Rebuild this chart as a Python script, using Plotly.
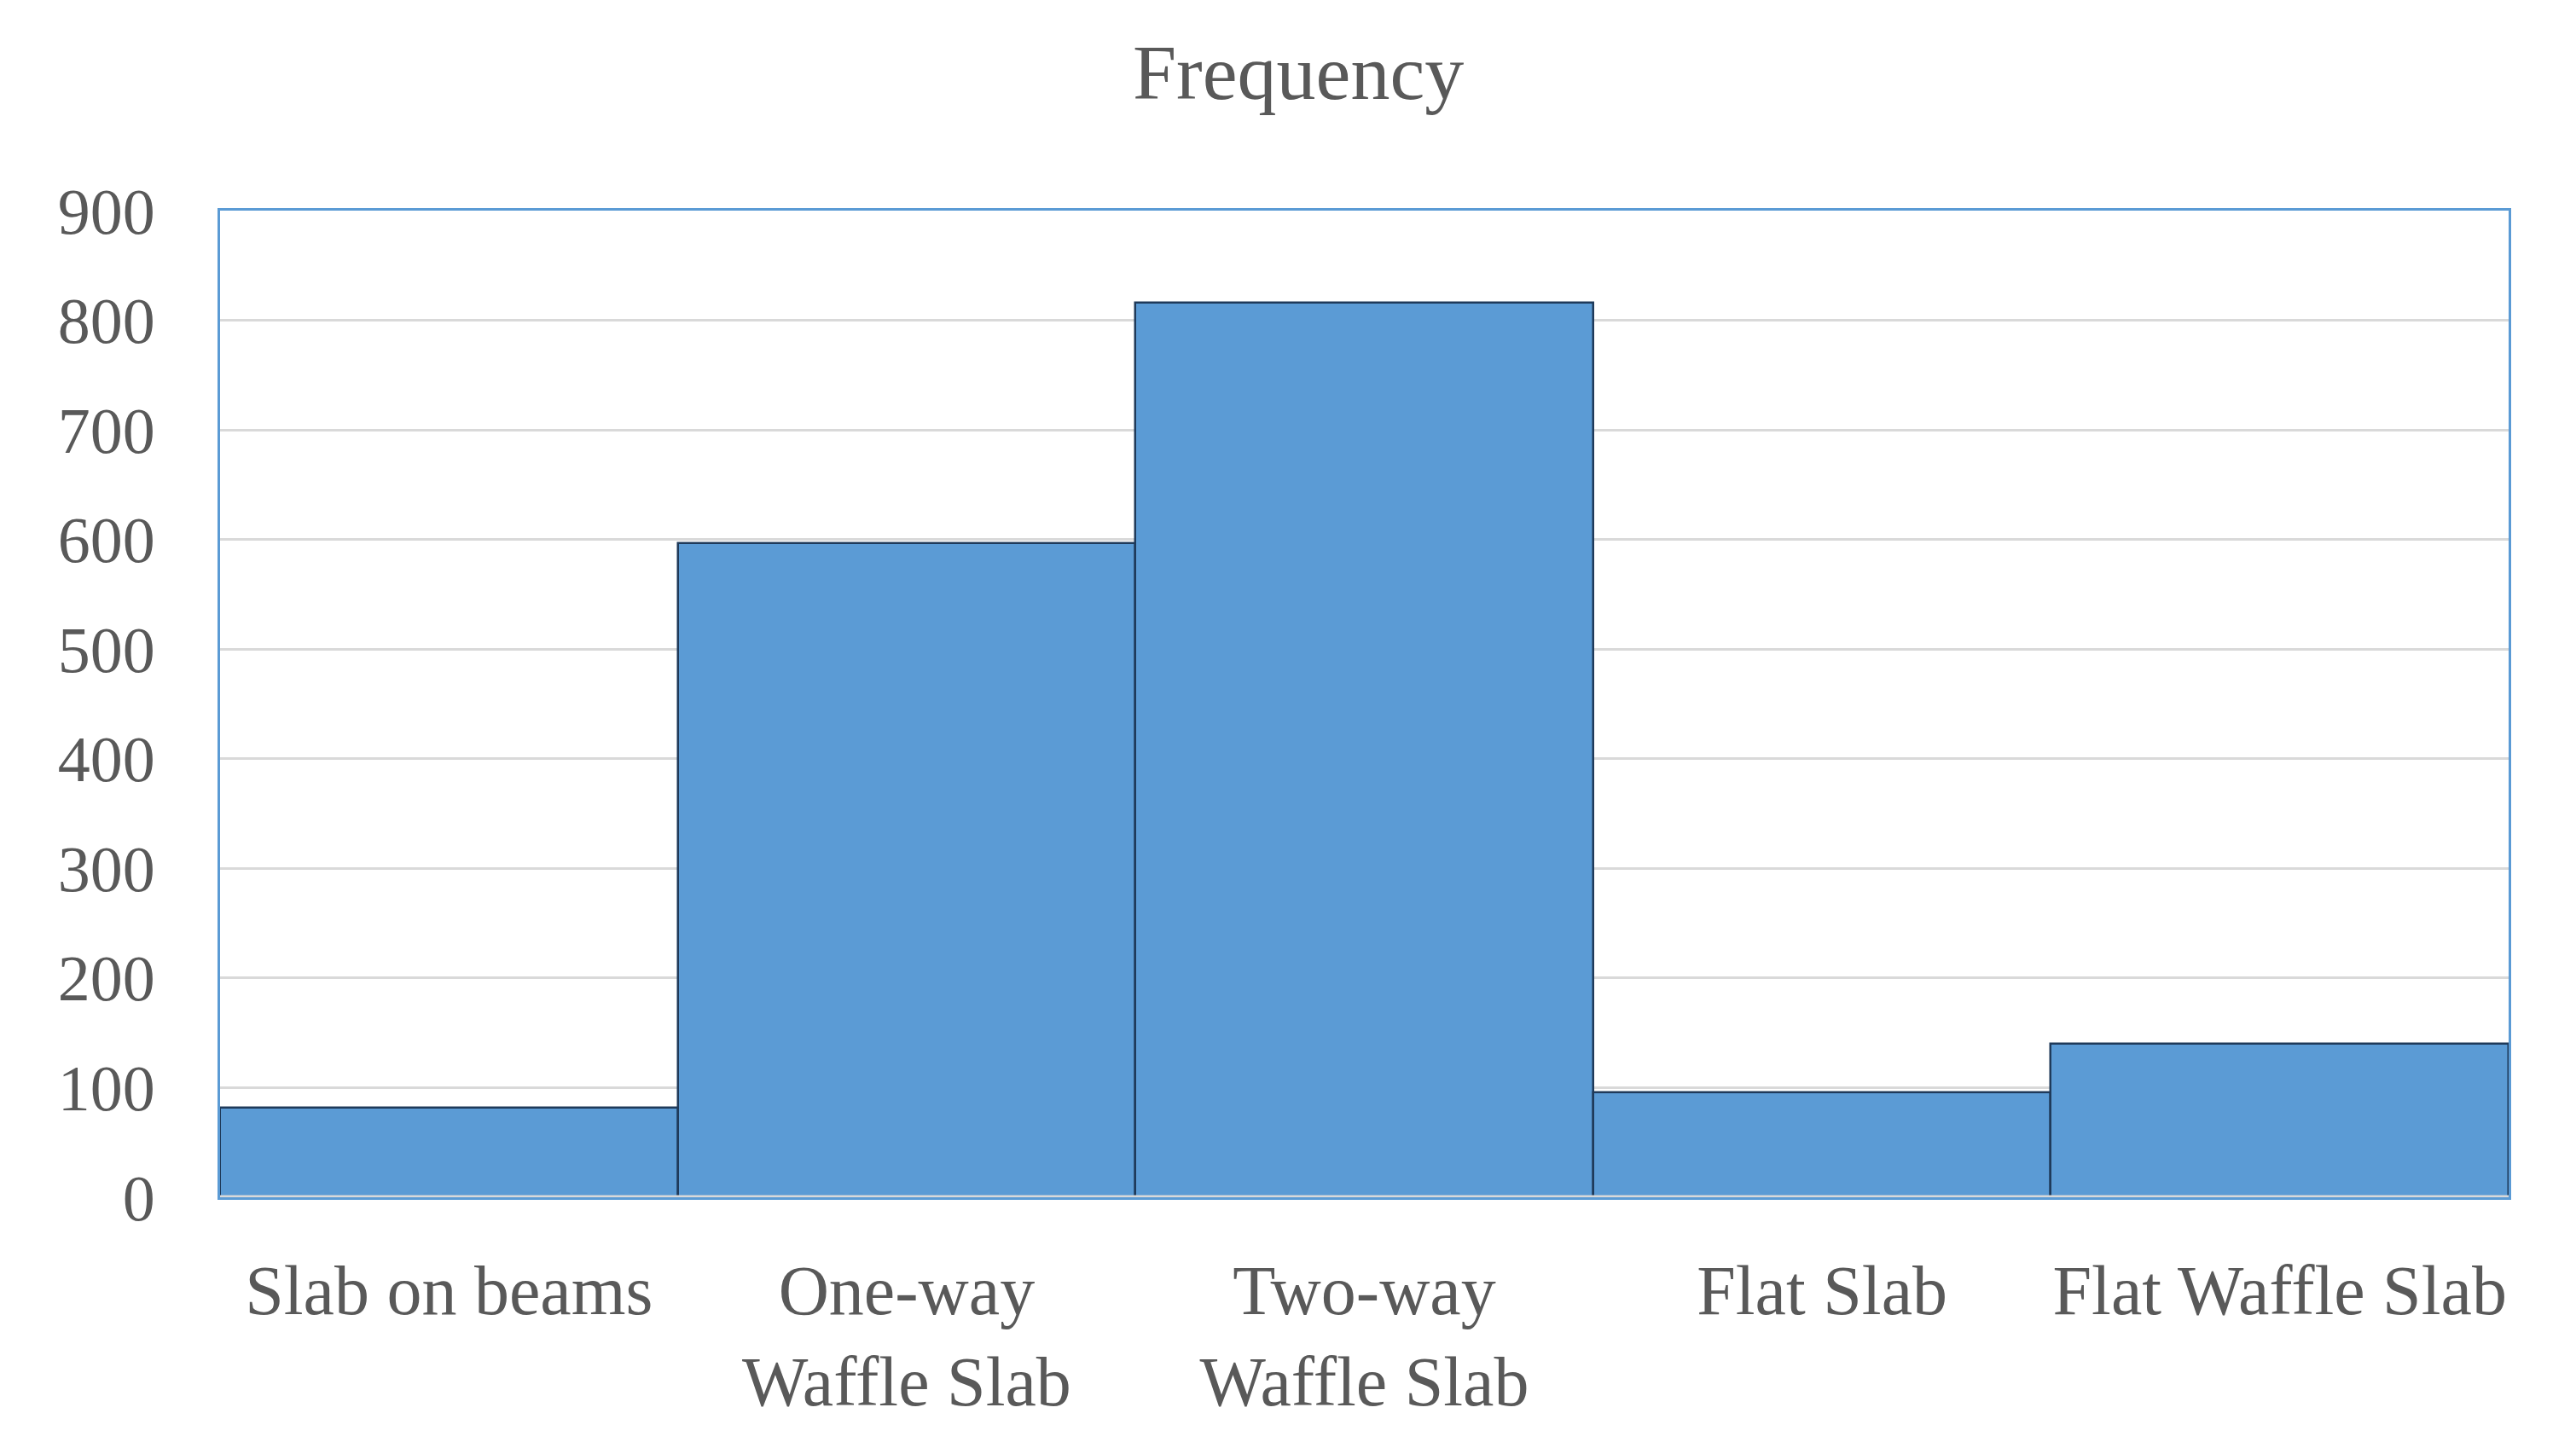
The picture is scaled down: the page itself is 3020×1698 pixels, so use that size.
import plotly.graph_objects as go

categories = ["Slab on beams", "One-way<br>Waffle Slab", "Two-way<br>Waffle Slab", "Flat Slab", "Flat Waffle Slab"]
frequency = [82, 597, 816, 96, 140]
y_ticks = [0, 100, 200, 300, 400, 500, 600, 700, 800, 900]

FONT = "Liberation Serif"
TXT = "#595959"

fig = go.Figure()
fig.add_trace(go.Bar(
    x=categories, y=frequency,
    marker=dict(color="#5B9BD5", line=dict(color="#1F3A5A", width=2.5)),
    showlegend=False,
))

fig.update_layout(
    width=3020, height=1698,
    paper_bgcolor="white", plot_bgcolor="white",
    margin=dict(l=258, r=79, t=247, b=294),
    bargap=0,
    title=dict(text="Frequency", x=0.504, xref="container", xanchor="center",
               y=1 - 52 / 1698, yref="container", yanchor="top",
               font=dict(family=FONT, size=92, color=TXT)),
    font=dict(family=FONT, color=TXT),
)
fig.update_xaxes(
    showline=True, linecolor="#5B9BD5", linewidth=3, mirror=True,
    showgrid=False, ticks="", tickfont=dict(family=FONT, size=82, color=TXT),
    ticklabelstandoff=36,
)
fig.update_yaxes(
    range=[0, 900], tickvals=y_ticks, ticktext=[str(v) for v in y_ticks],
    showline=True, linecolor="#5B9BD5", linewidth=3, mirror=True,
    showgrid=True, gridcolor="#D9D9D9", gridwidth=3,
    zeroline=False, ticks="", tickfont=dict(family=FONT, size=76, color=TXT),
    ticklabelstandoff=58,
)
fig.add_shape(type="line", xref="x domain", yref="y", x0=0, x1=1, y0=0, y1=0,
              line=dict(color="#D9D9D9", width=5), layer="above")

fig.write_html("out.html", config={"displayModeBar": False},
               post_script="document.body.style.margin='0';document.body.style.overflow='hidden';")
